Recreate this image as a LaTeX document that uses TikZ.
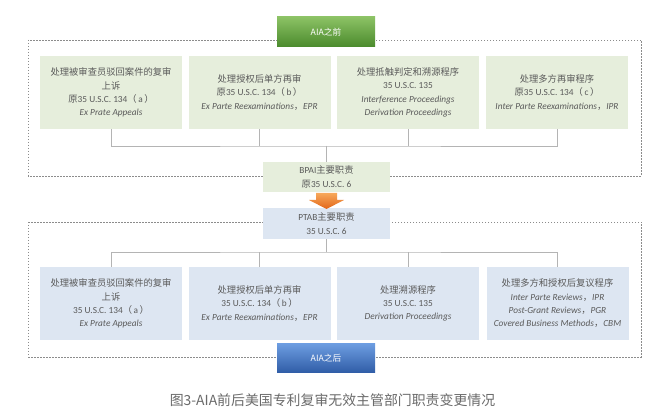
\documentclass[tikz,border=0pt]{standalone}
\usepackage{fontspec}
\setmainfont{Carlito}
\newfontfamily\cjk{Noto Sans CJK SC}
\definecolor{boxgreen}{HTML}{E6EEDC}
\definecolor{boxblue}{HTML}{DDE6F2}
\definecolor{txtgray}{HTML}{5A5A5A}
\definecolor{linegray}{HTML}{B4B4B4}
\definecolor{framegray}{HTML}{8C8C8C}
\definecolor{greenA}{HTML}{8CC265}
\definecolor{greenB}{HTML}{4A8A2C}
\definecolor{blueA}{HTML}{6C9CE0}
\definecolor{blueB}{HTML}{2F5CA6}
\definecolor{arrowA}{HTML}{F7A85A}
\definecolor{arrowB}{HTML}{E2661A}
\definecolor{capgray}{HTML}{6A6A6A}
\newcommand\myzh[1]{{\cjk #1}}
\begin{document}
\begin{tikzpicture}[x=1pt,y=-1pt,
  boxbase/.style={rectangle, inner sep=0pt, align=center, text=txtgray,
    font=\fontsize{9.3}{13.3}\selectfont},
  topbox/.style={boxbase, fill=boxgreen, minimum width=142pt, minimum height=73pt},
  botbox/.style={boxbase, fill=boxblue, minimum width=142pt, minimum height=73pt},
  midgreen/.style={boxbase, fill=boxgreen, minimum width=127pt, minimum height=30pt},
  midblue/.style={boxbase, fill=boxblue, minimum width=127pt, minimum height=31pt},
  header/.style={rectangle, inner sep=0pt, minimum width=98pt, minimum height=30pt,
    text=white, font=\cjk\fontsize{8.7}{10}\selectfont},
  frame/.style={draw=framegray, line width=0.6pt, dash pattern=on 1.5pt off 1.5pt},
  conn/.style={draw=linegray, line width=0.8pt},
]
\path[use as bounding box, fill=white] (0,0) rectangle (659,419);

% dashed frames
\draw[frame] (28,40) rectangle (641,176);
\draw[frame] (28,222) rectangle (641,357);

% headers
\node[header, top color=greenA, bottom color=greenB] (pre) at (326,32) {AIA之前};
\node[header, top color=blueA, bottom color=blueB, minimum height=29pt] (post) at (326,358.5) {AIA之后};

% top boxes
\node[topbox] (t1) at (111,92.5) {\myzh{处理被审查员驳回案件的复审}\\\myzh{上诉}\\\myzh{原}35 U.S.C. 134\myzh{（}\,a\,\myzh{）}\\\textit{Ex Prate Appeals}};
\node[topbox] (t2) at (259.5,92.5) {\myzh{处理授权后单方再审}\\\myzh{原}35 U.S.C. 134\myzh{（}\,b\,\myzh{）}\\\textit{Ex Parte Reexaminations}\myzh{，}\textit{EPR}};
\node[topbox] (t3) at (408,92.5) {\myzh{处理抵触判定和溯源程序}\\35 U.S.C. 135\\\textit{Interference Proceedings}\\\textit{Derivation Proceedings}};
\node[topbox] (t4) at (557,92.5) {\myzh{处理多方再审程序}\\\myzh{原}35 U.S.C. 134\myzh{（}\,c\,\myzh{）}\\\textit{Inter Parte Reexaminations}\myzh{，}\textit{IPR}};

% middle boxes
\node[midgreen] (bpai) at (326.5,177) {BPAI\myzh{主要职责}\\\myzh{原}35 U.S.C. 6};
\node[midblue] (ptab) at (326.5,223.5) {PTAB\myzh{主要职责}\\35 U.S.C. 6};

% bottom boxes
\node[botbox] (b1) at (111,303.5) {\myzh{处理被审查员驳回案件的复审}\\\myzh{上诉}\\35 U.S.C. 134\myzh{（}\,a\,\myzh{）}\\\textit{Ex Prate Appeals}};
\node[botbox] (b2) at (259.5,303.5) {\myzh{处理授权后单方再审}\\35 U.S.C. 134\myzh{（}\,b\,\myzh{）}\\\textit{Ex Parte Reexaminations}\myzh{，}\textit{EPR}};
\node[botbox] (b3) at (408,303.5) {\myzh{处理溯源程序}\\35 U.S.C. 135\\\textit{Derivation Proceedings}};
\node[botbox] (b4) at (557.5,303.5) {\myzh{处理多方和授权后复议程序}\\\textit{Inter Parte Reviews}\myzh{，}\textit{IPR}\\\textit{Post-Grant Reviews}\myzh{，}\textit{PGR}\\\textit{Covered Business Methods}\myzh{，}\textit{CBM}};

% connectors top
\coordinate (jt) at (326.5,146);
\draw[conn] (t1.south) |- (jt) -| (t4.south);
\draw[conn] (t2.south) -- (t2.south |- jt);
\draw[conn] (t3.south) -- (t3.south |- jt);
\draw[conn] (jt) -- (bpai.north);

% connectors bottom
\coordinate (jb) at (326.5,252);
\draw[conn] (ptab.south) -- (jb);
\draw[conn] (b1.north) |- (jb) -| (b4.north);
\draw[conn] (b2.north) -- (b2.north |- jb);
\draw[conn] (b3.north) -- (b3.north |- jb);

% orange arrow
\path[top color=arrowA, bottom color=arrowB]
  (316,193) -- (337,193) -- (337,200) -- (344,200) -- (326.5,209)
  -- (309,200) -- (316,200) -- cycle;

% caption
\node[text=capgray, font=\cjk\fontsize{13.9}{16}\selectfont, inner sep=0pt] (cap) at (332.5,400) {图3-AIA前后美国专利复审无效主管部门职责变更情况};
\end{tikzpicture}
\end{document}
